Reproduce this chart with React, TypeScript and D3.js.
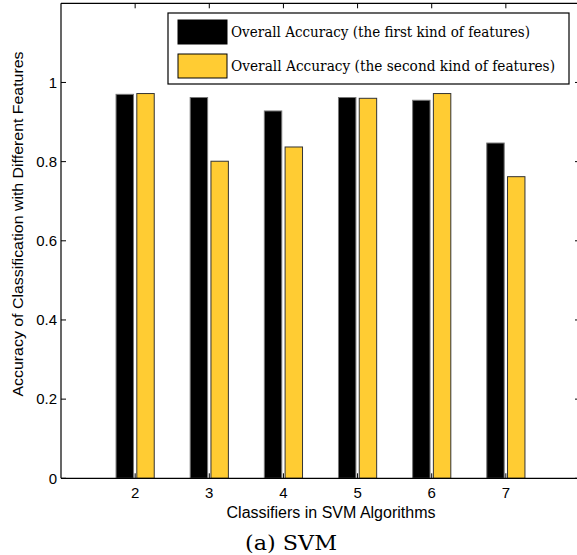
import React from 'react';
import * as d3 from 'd3';

const classifiers = [2, 3, 4, 5, 6, 7];
const firstKind = [0.97, 0.962, 0.928, 0.962, 0.955, 0.847];
const secondKind = [0.972, 0.801, 0.837, 0.96, 0.972, 0.762];
const yTicks = [0, 0.2, 0.4, 0.6, 0.8, 1];
const legendLabels = [
  'Overall Accuracy (the first kind of features)',
  'Overall Accuracy (the second kind of features)',
];

const W = 577;
const H = 555;
const margin = { left: 61, top: 3.3, right: 580, bottom: 478.3 };

const App = () => {
  const x = d3.scaleLinear().domain([1, 8]).range([margin.left, margin.right]);
  const y = d3.scaleLinear().domain([0, 1.2]).range([margin.bottom, margin.top]);

  const barW = x(1.235) - x(1);
  const off = 0.14;
  const colors = ['#000000', '#ffcc33'];
  const series = [firstKind, secondKind];

  return (
    <svg width={W} height={H} style={{ position: 'absolute', left: 0, top: 0, background: '#fff' }}>
      <rect x={0} y={0} width={W} height={H} fill="#fff" />

      {/* bars */}
      {series.map((vals, si) =>
        vals.map((v, i) => {
          const cx = x(classifiers[i] + (si === 0 ? -off : off));
          return (
            <rect
              key={`${si}-${i}`}
              x={cx - barW / 2}
              y={y(v)}
              width={barW}
              height={y(0) - y(v)}
              fill={colors[si]}
              stroke={si === 0 ? '#777' : '#333'}
              strokeWidth={1}
            />
          );
        })
      )}

      {/* axes box */}
      <g stroke="#000" strokeWidth={1.2} fill="none">
        <line x1={margin.left} x2={margin.right} y1={margin.bottom} y2={margin.bottom} />
        <line x1={margin.left} x2={margin.right} y1={margin.top} y2={margin.top} />
        <line x1={margin.left} x2={margin.left} y1={margin.top} y2={margin.bottom} />
        <line x1={margin.right} x2={margin.right} y1={margin.top} y2={margin.bottom} />
      </g>

      {/* ticks */}
      <g stroke="#000" strokeWidth={1}>
        {yTicks.map((t) => (
          <g key={`yt${t}`}>
            <line x1={margin.left} x2={margin.left + 5} y1={y(t)} y2={y(t)} />
            <line x1={margin.right - 5} x2={margin.right} y1={y(t)} y2={y(t)} />
          </g>
        ))}
        {classifiers.map((c) => (
          <g key={`xt${c}`}>
            <line x1={x(c)} x2={x(c)} y1={margin.top} y2={margin.top + 5} />
            <line x1={x(c)} x2={x(c)} y1={margin.bottom} y2={margin.bottom - 5} />
          </g>
        ))}
      </g>

      {/* tick labels */}
      <g fontFamily="Liberation Sans, Arial, sans-serif" fontSize={15} fill="#000">
        {yTicks.map((t) => (
          <text key={`yl${t}`} x={57} y={y(t)} dy="0.35em" textAnchor="end">
            {t === 0 || t === 1 ? d3.format('d')(t) : d3.format('.1f')(t)}
          </text>
        ))}
        {classifiers.map((c) => (
          <text key={`xl${c}`} x={x(c)} y={498} textAnchor="middle">
            {c}
          </text>
        ))}
        <text x={331} y={518} textAnchor="middle" fontSize={16}>Classifiers in SVM Algorithms</text>
        <text
          transform={`translate(23,224) rotate(-90)`}
          textAnchor="middle"
          textLength={345}
          lengthAdjust="spacingAndGlyphs"
        >
          Accuracy of Classification with Different Features
        </text>
      </g>

      {/* legend */}
      <g>
        <rect x={168} y={13} width={401} height={71} fill="#fff" stroke="#000" strokeWidth={1.2} />
        {legendLabels.map((lab, i) => (
          <g key={lab}>
            <rect x={178} y={20 + i * 34} width={49} height={24} fill={colors[i]} stroke="#000" strokeWidth={1} />
            <text
              x={231}
              y={37 + i * 34}
              fontFamily="DejaVu Serif, Liberation Serif, serif"
              fontSize={14}
              textLength={i === 0 ? 299 : 324}
              lengthAdjust="spacingAndGlyphs"
            >
              {lab}
            </text>
          </g>
        ))}
      </g>

      {/* caption */}
      <text
        x={291}
        y={550}
        textAnchor="middle"
        fontFamily="DejaVu Serif, Liberation Serif, serif"
        fontSize={20}
        textLength={92}
        lengthAdjust="spacingAndGlyphs"
      >
        (a) SVM
      </text>
    </svg>
  );
};

export default App;
